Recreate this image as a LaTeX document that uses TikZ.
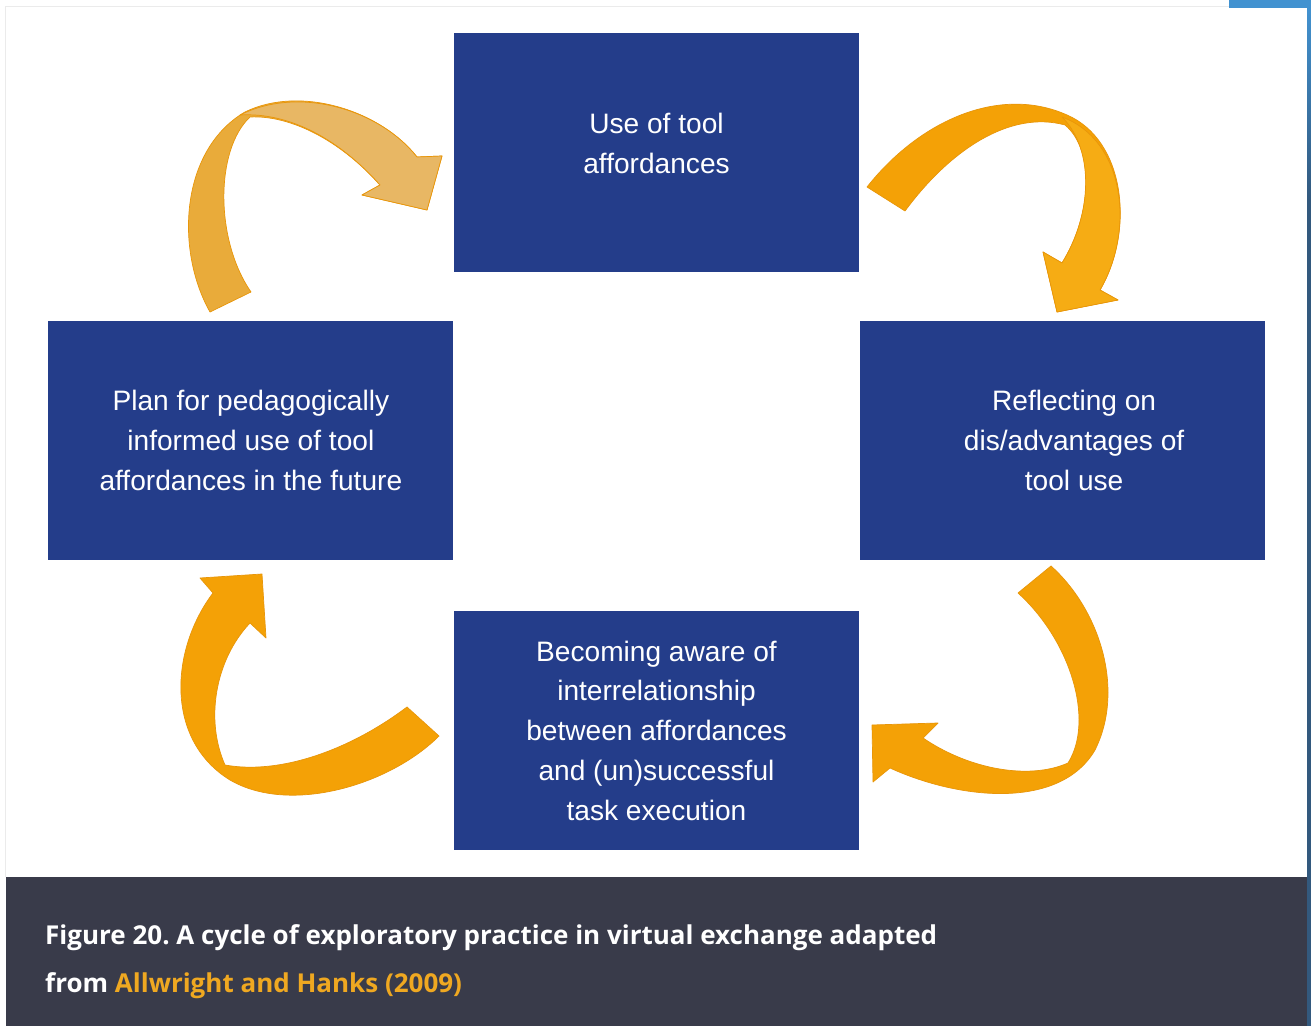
\documentclass[tikz,border=0pt]{standalone}
\usepackage{fontspec}
\setmainfont{Liberation Sans}
\newfontfamily\capfont{Open Sans}
\usetikzlibrary{positioning}
\frenchspacing
\definecolor{boxblue}{HTML}{243D8A}
\definecolor{capgrey}{HTML}{393B4A}
\definecolor{arrowtan}{HTML}{E9AB3A}
\definecolor{arrowpale}{HTML}{E8B764}
\definecolor{arroworange}{HTML}{F4A106}
\definecolor{arrowlight}{HTML}{F6AC14}
\definecolor{arrowedge}{HTML}{E8960A}
\definecolor{linkorange}{HTML}{EFA821}
\definecolor{stripblue}{HTML}{4292D0}
\definecolor{barblue}{HTML}{33597E}

\begin{document}
\begin{tikzpicture}[x=0.02cm, y=-0.02cm]
            \tikzset{
                stage/.style={fill=boxblue, text=white, minimum width=8.1cm, minimum height=4.78cm, inner sep=0pt, align=center, font=\fontsize{16}{22.7}\selectfont},
                bend_arrow/.style={fill=#1, draw=arrowedge, line width=0.4pt, line join=round},
                caption_line/.style={anchor=base west, text=white, font=\capfont\bfseries\fontsize{14.8}{20}\selectfont}
            }
            \useasboundingbox (0,0) rectangle (1311,1026);
            \fill[white] (0,0) rectangle (1311,1026);
            \draw[black!8] (5,877) -- (5,6) -- (1229,6);
            \fill[stripblue] (1229,0) rectangle (1311,8);
            \shade[top color=stripblue, bottom color=barblue] (1307,8) rectangle (1311,200);
            \fill[barblue] (1307,200) rectangle (1311,1026);

            \node[stage, text depth=0.36cm] (use) at (656.5,152.5) {Use of tool\\affordances};
            \node[stage] (plan) [below left=0.96cm and 0cm of use] {Plan for pedagogically\\informed use of tool\\affordances in the future};
            \node[stage] (reflect) [below right=0.96cm and 0cm of use] {\hspace*{0.48cm}Reflecting on\\\hspace*{0.48cm}dis/advantages of\\\hspace*{0.48cm}tool use};
            \node[stage] (aware) [below right=1.02cm and 0cm of plan] {Becoming aware of\\interrelationship\\between affordances\\and (un)successful\\task execution};

            % curved arrows round the cycle
            \filldraw[bend_arrow=arrowtan] (210,312) .. controls (175,250) and (180,150) .. (245,112)
                .. controls (300,85) and (380,110) .. (417,157) -- (442,156) -- (427,210) -- (362,195) -- (380,185)
                .. controls (340,140) and (290,115) .. (250,117) .. controls (215,150) and (215,240) .. (251,292) -- cycle;
            \filldraw[bend_arrow=arrowpale] (240,115) .. controls (300,85) and (380,110) .. (417,157) -- (442,156) -- (427,210) -- (362,195) -- (380,185)
                .. controls (340,140) and (290,112) .. (240,115) -- cycle;
            \filldraw[bend_arrow=arroworange] (867,187) .. controls (920,120) and (1000,85) .. (1067,115)
                .. controls (1125,140) and (1135,230) .. (1100,290) -- (1118,300) -- (1057,312) -- (1043,252) -- (1062,263)
                .. controls (1092,215) and (1095,150) .. (1065,125) .. controls (1010,110) and (950,150) .. (905,211) -- cycle;
            \filldraw[bend_arrow=arrowlight] (1062,117) .. controls (1125,140) and (1135,230) .. (1100,290) -- (1118,300) -- (1057,312) -- (1043,252) -- (1062,263)
                .. controls (1092,215) and (1095,150) .. (1062,117) -- cycle;
            \filldraw[bend_arrow=arroworange] (1018,593) .. controls (1070,640) and (1095,720) .. (1068,763)
                .. controls (1030,780) and (970,770) .. (923,738) -- (938,723) -- (872,725) -- (873,782) -- (890,768)
                .. controls (960,800) and (1060,810) .. (1095,750) .. controls (1125,690) and (1100,610) .. (1051,566) -- cycle;
            \filldraw[bend_arrow=arroworange] (407,707) .. controls (350,750) and (280,775) .. (225,765)
                .. controls (205,720) and (215,660) .. (250,623) -- (266,638) -- (262,574) -- (200,578) -- (213,593)
                .. controls (170,650) and (165,740) .. (230,780) .. controls (290,815) and (390,785) .. (439,736) -- cycle;

            % caption
            \fill[capgrey] (6,877) rectangle (1307,1026);
            \node[caption_line] (cap1) at (39,944) {Figure 20. A cycle of exploratory practice in virtual exchange adapted};
            \node[caption_line] (cap2) at (39,992) {from \textcolor{linkorange}{Allwright and Hanks (2009)}};
        \end{tikzpicture}
\end{document}
